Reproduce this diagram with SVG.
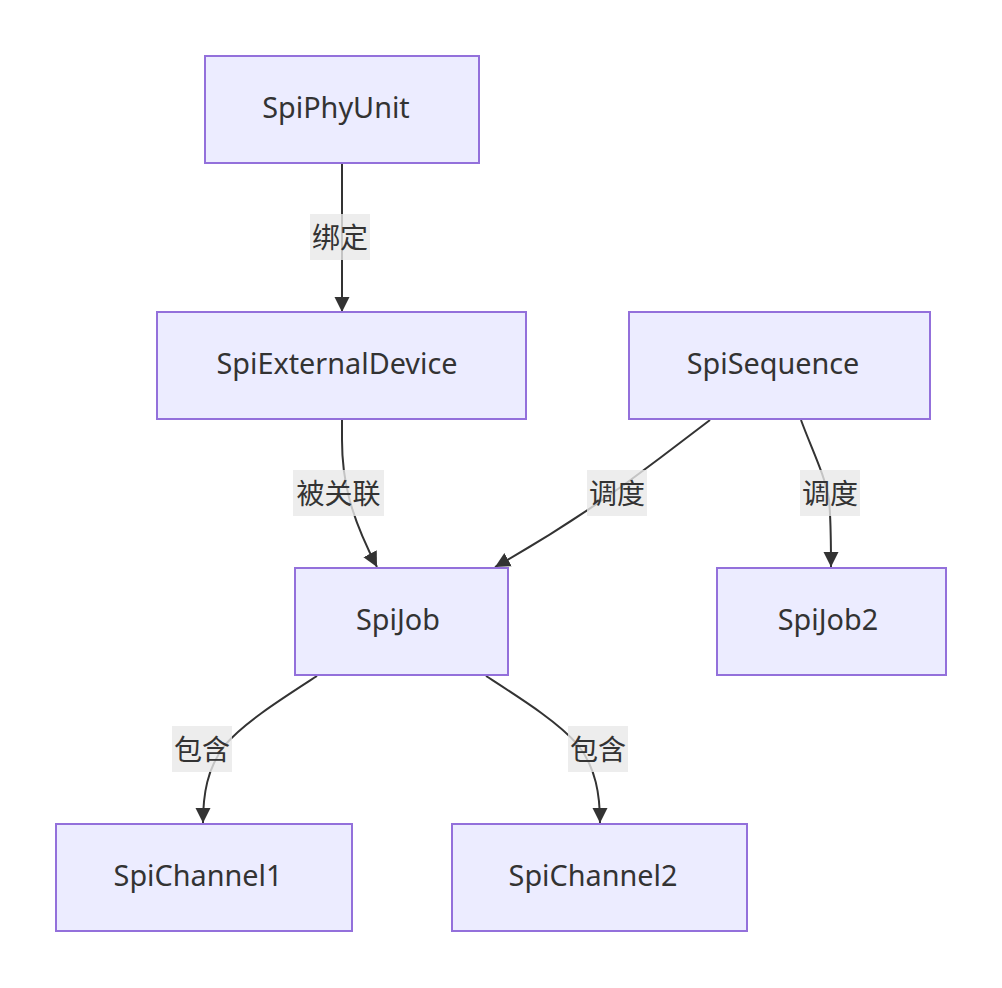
<svg xmlns="http://www.w3.org/2000/svg" width="1002" height="988" viewBox="0 0 1002 988">
<defs>
<style>
.node rect{fill:#ECECFF;stroke:#9370DB;stroke-width:2}
.node text{font-family:"Noto Sans","Open Sans","DejaVu Sans",sans-serif;font-size:28.8px;fill:#333;text-anchor:middle;dominant-baseline:central}
.edge{fill:none;stroke:#333;stroke-width:2}
.lbl rect{fill:#e8e8e8;fill-opacity:0.8}
.lbl text{font-family:"Noto Sans CJK SC","Noto Sans",sans-serif;font-size:28px;fill:#333;text-anchor:middle;dominant-baseline:central}
</style>
<marker id="arr" viewBox="0 0 10 10" refX="10" refY="5" markerUnits="userSpaceOnUse" markerWidth="15" markerHeight="16" orient="auto">
<path d="M0,0 L10,5 L0,10 z" fill="#333"/>
</marker>
</defs>
<rect width="1002" height="988" fill="#fff"/>
<g id="connectors">
<path class="edge" d="M342,164 L342,312" marker-end="url(#arr)"/>
<path class="edge" d="M342,420 L342,440 C342,480 350,515 377,567" marker-end="url(#arr)"/>
<path class="edge" d="M710,420 L660,458 C625,485 575,522 495,567" marker-end="url(#arr)"/>
<path class="edge" d="M801,420 C812,450 825,475 829,500 C831,520 831,540 831,567" marker-end="url(#arr)"/>
<path class="edge" d="M317,676 C280,700 245,722 225,745 C207,768 203,795 203,823" marker-end="url(#arr)"/>
<path class="edge" d="M486,676 C523,700 558,722 578,745 C596,768 600,795 600,823" marker-end="url(#arr)"/>
<g class="lbl"><rect x="310" y="214" width="60" height="46"/><text x="340" y="235.5">绑定</text></g>
<g class="lbl"><rect x="293" y="470" width="91" height="46"/><text x="338.5" y="491.5">被关联</text></g>
<g class="lbl"><rect x="587" y="470" width="60" height="46"/><text x="617" y="491.5">调度</text></g>
<g class="lbl"><rect x="800" y="470" width="60" height="46"/><text x="830" y="491.5">调度</text></g>
<g class="lbl"><rect x="172" y="726" width="60" height="46"/><text x="202" y="747.5">包含</text></g>
<g class="lbl"><rect x="568" y="726" width="60" height="46"/><text x="598" y="747.5">包含</text></g>
</g>
<g id="SpiPhyUnit" class="node"><rect x="205" y="56" width="274" height="107"/><text x="336" y="106.5">SpiPhyUnit</text></g>
<g id="SpiExternalDevice" class="node"><rect x="157" y="312" width="369" height="107"/><text x="337" y="362.5">SpiExternalDevice</text></g>
<g id="SpiSequence" class="node"><rect x="629" y="312" width="301" height="107"/><text x="773" y="362.5">SpiSequence</text></g>
<g id="SpiJob" class="node"><rect x="295" y="568" width="213" height="107"/><text x="398" y="618.5">SpiJob</text></g>
<g id="SpiJob2" class="node"><rect x="717" y="568" width="229" height="107"/><text x="828" y="618.5">SpiJob2</text></g>
<g id="SpiChannel1" class="node"><rect x="56" y="824" width="296" height="107"/><text x="198" y="874.5">SpiChannel1</text></g>
<g id="SpiChannel2" class="node"><rect x="452" y="824" width="295" height="107"/><text x="593" y="874.5">SpiChannel2</text></g>
</svg>
